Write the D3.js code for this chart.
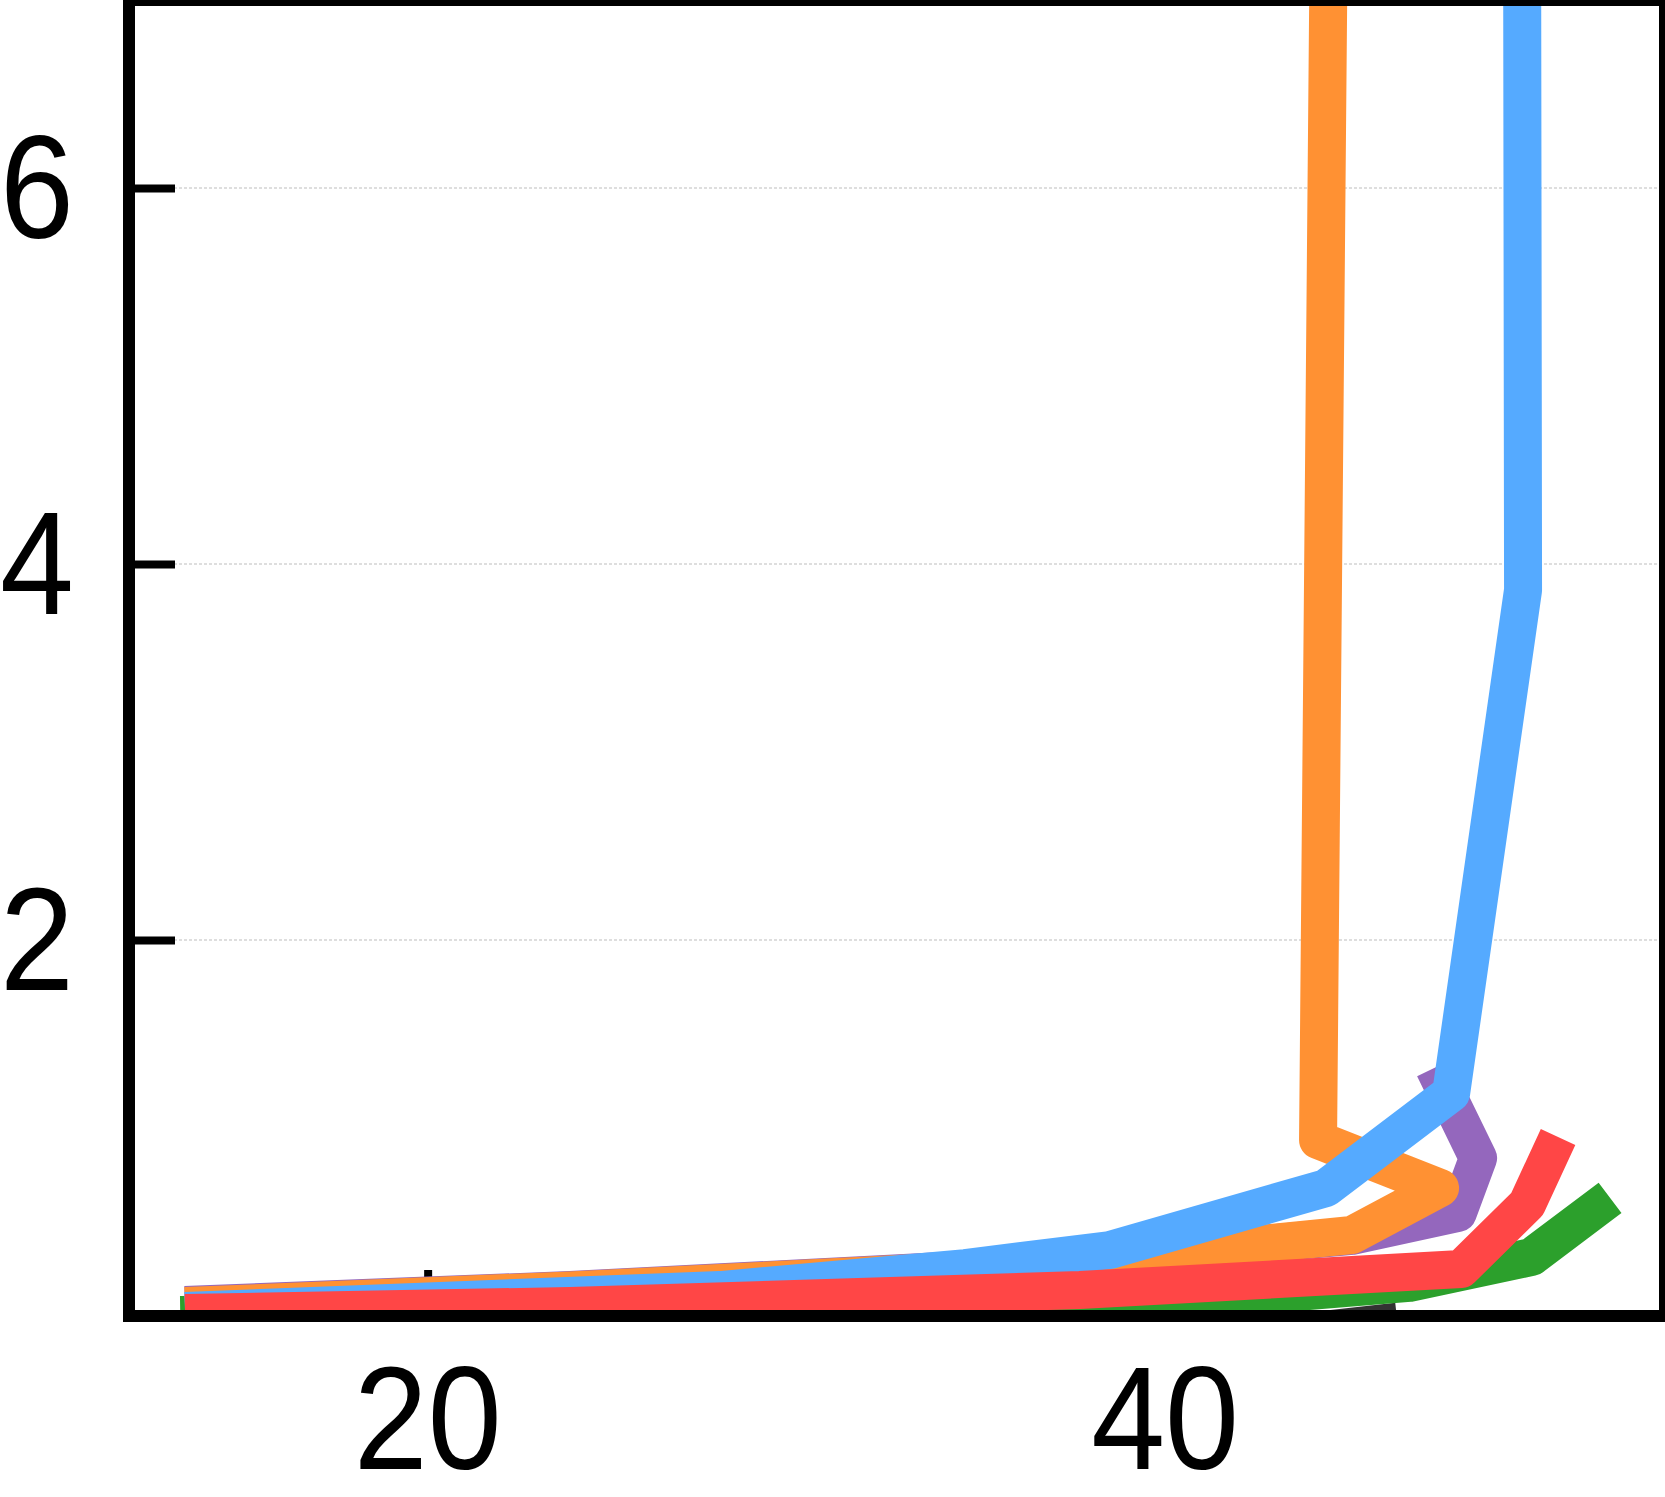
<!DOCTYPE html>
<html>
<head>
<meta charset="utf-8">
<script src="https://cdnjs.cloudflare.com/ajax/libs/d3/7.8.5/d3.min.js"></script>
<style>
body { margin: 0; background: #fff; }
svg { display: block; }
text { font-family: "Liberation Sans", Arial, Helvetica, sans-serif; fill: #000; }
</style>
</head>
<body>
<div id="chart"></div>
<script>
// series values, [x, y]
var seriesNames = ["black", "green", "purple", "orange", "blue", "red"];
var seriesColors = ["#333333", "#2ca02c", "#9467bd", "#ff9133", "#55aaff", "#ff4646"];

var blackPts = [[13.3, -0.1], [44.0, -0.08], [46.3, -0.03]];
var greenPts = [[13.29, 0.005], [40.95, 0.085], [46.63, 0.176], [49.94, 0.314], [52.07, 0.628]];
var purplePts = [[13.42, 0.059], [23.86, 0.138], [35.96, 0.26], [45.07, 0.426], [47.94, 0.548], [48.49, 0.84], [47.30, 1.319]];
var orangePts = [[13.42, 0.053], [23.86, 0.136], [35.96, 0.255], [45.07, 0.431], [47.46, 0.681], [44.15, 0.936], [44.47, 8.0]];
var bluePts = [[13.42, 0.027], [27.93, 0.138], [34.58, 0.255], [38.51, 0.351], [44.37, 0.681], [47.76, 1.186], [49.71, 3.862], [49.68, 8.0]];
var redPts = [[13.42, 0.016], [23.86, 0.053], [37.69, 0.138], [48.03, 0.25], [49.82, 0.596], [50.66, 0.952]];

var xTicks = [20, 40];
var yTicks = [2, 4, 6];

var allSeries = [blackPts, greenPts, purplePts, orangePts, bluePts, redPts];

var W = 1665, H = 1497;
var plotL = 129, plotR = 1665, plotT = 0, plotB = 1316;

var x = d3.scaleLinear().domain([11.9, 53.56]).range([plotL, plotR]);
var y = d3.scaleLinear().domain([0, 7]).range([plotB, plotT]);

var svg = d3.select("#chart").append("svg")
    .attr("width", W)
    .attr("height", H);

svg.append("clipPath").attr("id", "plotclip")
    .append("rect")
    .attr("x", plotL).attr("y", plotT)
    .attr("width", plotR - plotL).attr("height", plotB - plotT);

// grid
svg.append("g")
    .selectAll("line")
    .data(yTicks)
    .enter()
    .append("line")
    .attr("x1", plotL).attr("x2", plotR)
    .attr("y1", y).attr("y2", y)
    .attr("stroke", "#bdbdbd")
    .attr("stroke-width", 1)
    .attr("stroke-dasharray", "3,2");

// ticks (inward), drawn under the lines
var yAxis = d3.axisLeft(y).tickValues(yTicks).tickSize(-46).tickFormat("");
var xAxis = d3.axisBottom(x).tickValues(xTicks).tickSize(-46).tickFormat("");

svg.append("g")
    .attr("transform", "translate(" + plotL + ",0)")
    .call(yAxis)
    .call(function(g) { g.select(".domain").remove(); })
    .selectAll(".tick line").attr("stroke", "#000").attr("stroke-width", 8);

svg.append("g")
    .attr("transform", "translate(0," + plotB + ")")
    .call(xAxis)
    .call(function(g) { g.select(".domain").remove(); })
    .selectAll(".tick line").attr("stroke", "#000").attr("stroke-width", 8);

var line = d3.line()
    .x(function(d) { return x(d[0]); })
    .y(function(d) { return y(d[1]); });

svg.append("g")
    .attr("clip-path", "url(#plotclip)")
    .selectAll("path")
    .data(allSeries)
    .enter()
    .append("path")
    .attr("class", function(d, i) { return "s-" + seriesNames[i]; })
    .attr("d", line)
    .attr("fill", "none")
    .attr("stroke", function(d, i) { return seriesColors[i]; })
    .attr("stroke-width", 38)
    .attr("stroke-linejoin", "round")
    .attr("stroke-linecap", "butt");

// frame
svg.append("rect")
    .attr("x", plotL).attr("y", plotT)
    .attr("width", plotR - plotL).attr("height", plotB - plotT)
    .attr("fill", "none")
    .attr("stroke", "#000")
    .attr("stroke-width", 12);

// tick labels (font is a bit narrower than Arial in the original)
svg.append("g")
    .selectAll("text")
    .data(yTicks)
    .enter()
    .append("text")
    .attr("transform", function(d) { return "translate(74," + y(d) + ") scale(0.91,1)"; })
    .attr("dy", "0.34em")
    .attr("text-anchor", "end")
    .style("font-size", "146px")
    .text(function(d) { return d; });

svg.append("g")
    .selectAll("text")
    .data(xTicks)
    .enter()
    .append("text")
    .attr("transform", function(d) { return "translate(" + x(d) + ",1469) scale(0.91,1)"; })
    .attr("text-anchor", "middle")
    .style("font-size", "146px")
    .text(function(d) { return d; });
</script>
</body>
</html>
